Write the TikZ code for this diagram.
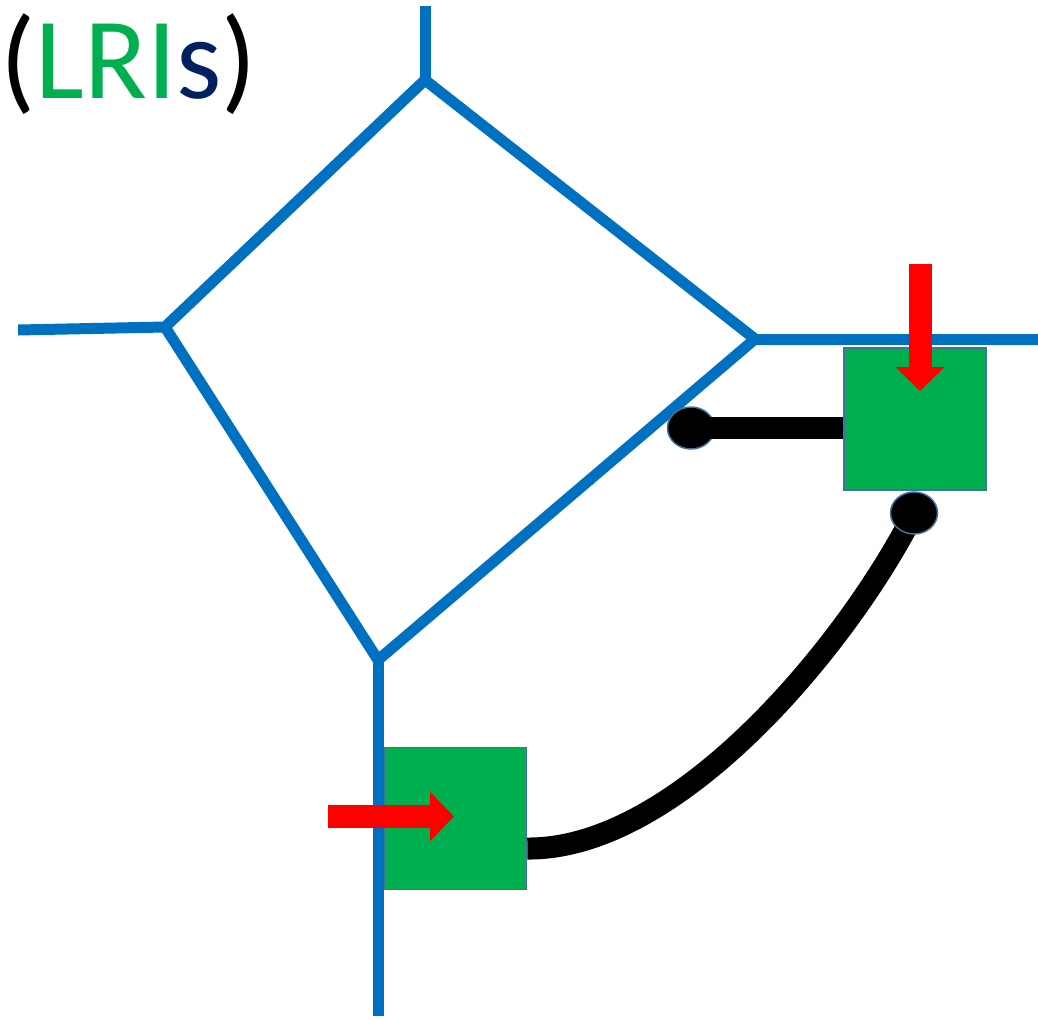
\documentclass[tikz,border=0pt]{standalone}
\usepackage{fontspec}
\setmainfont{Carlito}
\usetikzlibrary{arrows.meta,positioning,calc,shapes.geometric}
\definecolor{lriblue}{HTML}{0070C0}
\definecolor{lrigreen}{HTML}{00B050}
\definecolor{lrinavy}{HTML}{002060}
\definecolor{lriedge}{HTML}{41719C}

\begin{document}
\begin{tikzpicture}[x=1pt,y=-1pt,
 edge/.style={draw=lriblue,line width=11pt},
 cell/.style={draw=lriedge,line width=1.5pt,fill=lrigreen,minimum size=142pt,inner sep=0pt},
 knob/.style={ellipse,draw=lriedge,line width=1.5pt,fill=black,minimum width=47pt,minimum height=42pt,inner sep=0pt},
 link/.style={draw=black,line width=22pt},
 push/.style={draw=red,line width=23pt,-{Triangle[length=24pt,width=48pt]}}]
\useasboundingbox (0,0) rectangle (1038,1018);

% label
\node[anchor=base west,inner sep=0pt,font=\fontsize{116}{116}\selectfont] (title) at (0,98)
 {(\textcolor{lrigreen}{LRI}\textcolor{lrinavy}{s})};

% cell outline
\coordinate (top) at (425,80);
\coordinate (lft) at (165,327);
\coordinate (bot) at (378,660);
\coordinate (rgt) at (755,339);
\coordinate (topend) at (425,6);
\coordinate (lftend) at (18,330);
\coordinate (rgtend) at (1038,339);
\coordinate (botend) at (378,1016);
\draw[edge] (top)--(lft)--(bot)--(rgt)--cycle;
\draw[edge] (top)--(topend); \draw[edge] (lft)--(lftend);
\draw[edge] (rgt)--(rgtend); \draw[edge] (bot)--(botend);

% receptor boxes
\node[cell] (rbox) at (915,419) {};
\node[cell] (lbox) at (455.5,818.5) {};

% tethers
\node[knob] (knobA) at (691,428) {};
\draw[link] (knobA.center)--(rbox.west|-knobA);
\coordinate (k2) at (914,513);
\draw[link] (k2) .. controls (850,640) and (680,850) .. ($(lbox.east)+(0,30)$);
\node[knob] (knobB) at (k2) {};

% ligand arrows
\coordinate (ra) at (920,264); \coordinate (rb) at (920,391);
\coordinate (la) at (328,816.5); \coordinate (lb) at (454,816.5);
\draw[push] (ra)--(rb);
\draw[push] (la)--(lb);
\end{tikzpicture}
\end{document}
